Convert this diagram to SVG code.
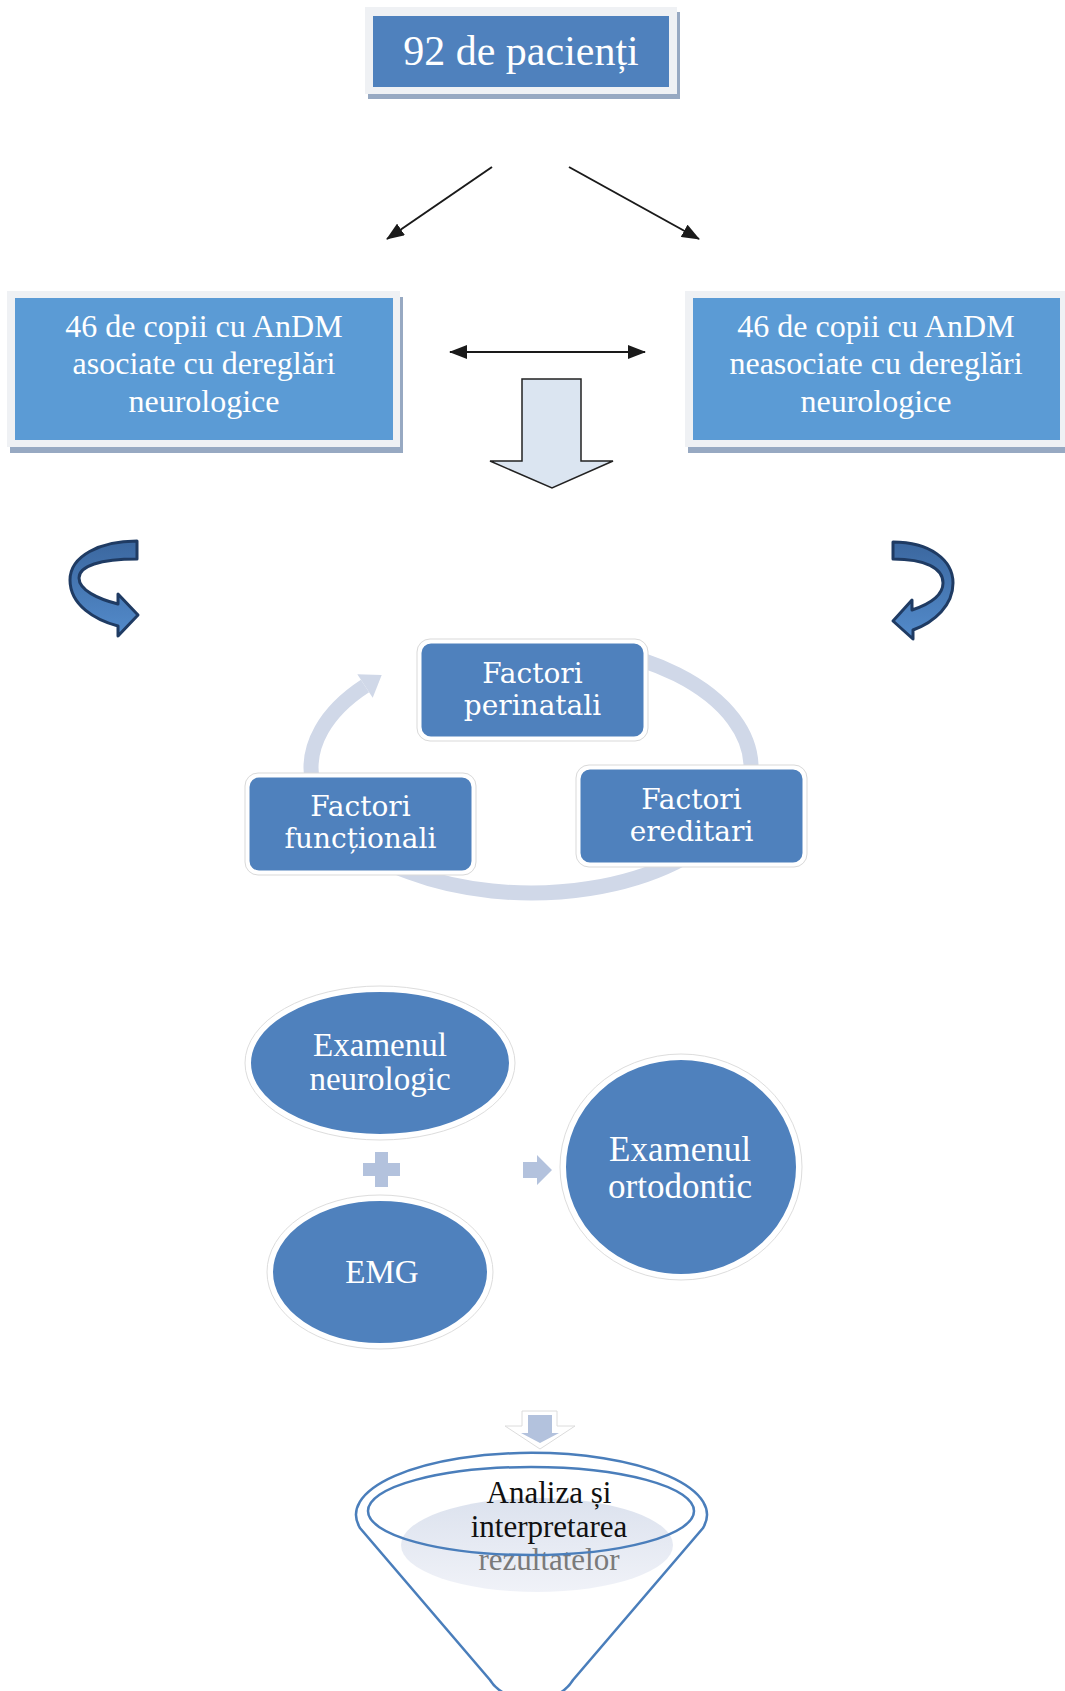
<svg xmlns="http://www.w3.org/2000/svg" width="1065" height="1691" viewBox="0 0 1065 1691">
<style>
.frame{fill:#eff1f4}
.shadow{fill:#97a9c2}
.blueA{fill:#4f81bd}
.blueB{fill:#5b9bd5}
.wt{fill:#ffffff;font-family:"Liberation Serif","Times New Roman",serif;text-anchor:middle}
.cyc{fill:#ffffff;font-family:"DejaVu Serif","Liberation Serif",serif;font-size:28px;text-anchor:middle}
.cbox{fill:#4f81bd;stroke:#ffffff;stroke-width:3}
.chalo{fill:#ffffff;stroke:#d9d9d9;stroke-width:1}
.conn{stroke:#1a1a1a;stroke-width:2;fill:none}
.curv{fill:url(#cg);stroke:#1f3b63;stroke-width:3;stroke-linejoin:round}
.light{fill:#b3c2dd}
.funnel{fill:none;stroke:#4a7ebb;stroke-width:2.5}
</style>
<defs>
<marker id="ah" markerUnits="userSpaceOnUse" markerWidth="18" markerHeight="14" refX="17" refY="7" orient="auto-start-reverse">
<path d="M0,0 L18,7 L0,14 Z" fill="#1a1a1a"/>
</marker>
<linearGradient id="cg" x1="0" y1="0" x2="0" y2="1">
<stop offset="0" stop-color="#3b679f"/>
<stop offset="1" stop-color="#538bcb"/>
</linearGradient>
<linearGradient id="lg" x1="0" y1="0" x2="0" y2="1">
<stop offset="0" stop-color="#dce2ee"/>
<stop offset="1" stop-color="#f0f2f8"/>
</linearGradient>
</defs>

<g id="connectors">
<line class="conn" x1="492" y1="167" x2="387" y2="239" marker-end="url(#ah)"/>
<line class="conn" x1="569" y1="167" x2="699" y2="239" marker-end="url(#ah)"/>
<line class="conn" x1="450" y1="352" x2="645" y2="352" marker-start="url(#ah)" marker-end="url(#ah)"/>
<polygon points="522,379 581,379 581,461 613,461 552,488 490,461 522,461" fill="#dbe5f1" stroke="#222222" stroke-width="1.5"/>
<path class="curv" d="M137,541 C100,541 70,556 70,580 C70,605 95,620 118,626 L118,636 L138,615 L118,594 L118,604 C98,599 79,590 79,578 C79,566 100,559 137,559 Z"/>
<path class="curv" d="M893,542 C930,542 953,560 953,583 C953,605 935,622 913,630 L913,639 L893,621 L912,600 L912,610 C930,604 943,595 943,583 C943,568 925,559 893,559 Z"/>
<path d="M600,649.3 A220 125 0 1 1 365,686" fill="none" stroke="#d0d8e8" stroke-width="15"/>
<polygon points="357.3,674.3 381.7,675 372.7,697.7" fill="#d0d8e8"/>
<rect class="light" x="363" y="1163" width="37" height="13"/>
<rect class="light" x="375" y="1152" width="13" height="35"/>
<polygon class="light" points="523,1162 537,1162 537,1155 552,1170 537,1185 537,1178 523,1178"/>
<polygon points="522,1411 557,1411 557,1426 575,1426 540,1449 505,1426 522,1426" fill="#ffffff" stroke="#dcdcdc" stroke-width="1"/>
<polygon class="light" points="528,1415 552,1415 552,1433 559,1433 540,1443 521,1433 528,1433"/>
</g>

<g id="node-top">
<rect class="shadow" x="368" y="12" width="312" height="87"/>
<rect class="frame" x="365" y="7" width="312" height="87"/>
<rect class="blueA" x="373" y="16" width="296" height="71"/>
<text class="wt" x="521" y="65" font-size="42">92 de pacienți</text>
</g>

<g id="node-left">
<rect class="shadow" x="10" y="297" width="393" height="156"/>
<rect class="frame" x="7" y="291" width="393" height="156"/>
<rect class="blueB" x="15" y="298" width="378" height="142"/>
<text class="wt" x="204" y="337" font-size="32">46 de copii cu AnDM</text>
<text class="wt" x="204" y="374" font-size="32">asociate cu dereglări</text>
<text class="wt" x="204" y="412" font-size="32">neurologice</text>
</g>

<g id="node-right">
<rect class="shadow" x="688" y="297" width="380" height="156"/>
<rect class="frame" x="685" y="291" width="382" height="156"/>
<rect class="blueB" x="693" y="298" width="367" height="142"/>
<text class="wt" x="876" y="337" font-size="32">46 de copii cu AnDM</text>
<text class="wt" x="876" y="374" font-size="32">neasociate cu dereglări</text>
<text class="wt" x="876" y="412" font-size="32">neurologice</text>
</g>

<g id="node-perinatali">
<rect class="chalo" x="417" y="639" width="231" height="102" rx="13"/>
<rect class="cbox" x="420" y="642" width="225" height="96" rx="11"/>
<text class="cyc" x="532.5" y="683">Factori</text>
<text class="cyc" x="532.5" y="715">perinatali</text>
</g>

<g id="node-ereditari">
<rect class="chalo" x="576" y="765" width="231" height="102" rx="13"/>
<rect class="cbox" x="579" y="768" width="225" height="96" rx="11"/>
<text class="cyc" x="691.5" y="809">Factori</text>
<text class="cyc" x="691.5" y="841">ereditari</text>
</g>

<g id="node-functionali">
<rect class="chalo" x="245" y="773" width="231" height="102" rx="13"/>
<rect class="cbox" x="248" y="776" width="225" height="96" rx="11"/>
<text class="cyc" x="360.5" y="816">Factori</text>
<text class="cyc" x="360.5" y="848">funcționali</text>
</g>

<g id="node-neurologic">
<ellipse cx="380" cy="1063" rx="135" ry="77" fill="#ffffff" stroke="#dddddd" stroke-width="1"/>
<ellipse cx="380" cy="1063" rx="131" ry="73" class="blueA" stroke="#ffffff" stroke-width="4"/>
<text class="wt" x="380" y="1056" font-size="33">Examenul</text>
<text class="wt" x="380" y="1090" font-size="33">neurologic</text>
</g>

<g id="node-emg">
<ellipse cx="380" cy="1272" rx="113" ry="77" fill="#ffffff" stroke="#dddddd" stroke-width="1"/>
<ellipse cx="380" cy="1272" rx="109" ry="73" class="blueA" stroke="#ffffff" stroke-width="4"/>
<text class="wt" x="382" y="1283" font-size="33">EMG</text>
</g>

<g id="node-ortodontic">
<ellipse cx="681" cy="1167" rx="121" ry="113" fill="#ffffff" stroke="#dddddd" stroke-width="1"/>
<ellipse cx="681" cy="1167" rx="117" ry="109" class="blueA" stroke="#ffffff" stroke-width="4"/>
<text class="wt" x="680" y="1161" font-size="35">Examenul</text>
<text class="wt" x="680" y="1198" font-size="35">ortodontic</text>
</g>

<g id="node-analiza">
<ellipse cx="537" cy="1545" rx="136" ry="47" fill="url(#lg)"/>
<text x="549" y="1503" font-size="31" fill="#111111" font-family="Liberation Serif, Times New Roman, serif" text-anchor="middle">Analiza și</text>
<text x="549" y="1537" font-size="31" fill="#111111" font-family="Liberation Serif, Times New Roman, serif" text-anchor="middle">interpretarea</text>
<text x="549" y="1570" font-size="31" fill="#7a7a7a" font-family="Liberation Serif, Times New Roman, serif" text-anchor="middle">rezultatelor</text>
<ellipse class="funnel" cx="531" cy="1511" rx="163" ry="44"/>
<path class="funnel" d="M360,1528 A175.5 62 0 1 1 703,1528 L573,1680 Q565,1693 550,1697 L515,1697 Q498,1693 490,1680 Z"/>
</g>
</svg>
